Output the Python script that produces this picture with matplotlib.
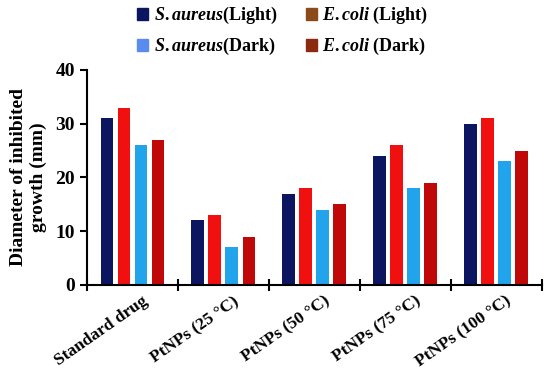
import numpy as np
import matplotlib.pyplot as plt
from matplotlib.patches import Patch

plt.rcParams['font.family'] = 'Liberation Serif'
plt.rcParams['font.weight'] = 'bold'
plt.rcParams['axes.labelweight'] = 'bold'
plt.rcParams['mathtext.fontset'] = 'custom'
plt.rcParams['mathtext.it'] = 'Liberation Serif:bold:italic'
plt.rcParams['mathtext.rm'] = 'Liberation Serif:bold'

categories = ['Standard drug', 'PtNPs (25 \u00b0C)', 'PtNPs (50 \u00b0C)',
              'PtNPs (75 \u00b0C)', 'PtNPs (100 \u00b0C)']
sa_light = [31, 12, 17, 24, 30]
ec_light = [33, 13, 18, 26, 31]
sa_dark = [26, 7, 14, 18, 23]
ec_dark = [27, 9, 15, 19, 25]

series = [sa_light, ec_light, sa_dark, ec_dark]
colors = ['#0c1560', '#f01010', '#22a4ec', '#c00808']
legend_colors = ['#0c1560', '#8a4a1a', '#5a8cf0', '#8a2a10']
labels = [r'$\it{S.aureus}$(Light)', r'$\it{E.coli}$ (Light)',
          r'$\it{S.aureus}$(Dark)', r'$\it{E.coli}$ (Dark)']

fig = plt.figure(figsize=(5.5, 3.72), dpi=100)
ax = fig.add_axes([0.158, 0.234, 0.827, 0.578])

x = np.arange(len(categories))
pitch = 0.187
width = 0.14
for i, (vals, c) in enumerate(zip(series, colors)):
    ax.bar(x + (i - 1.5) * pitch, vals, width, color=c)

ax.set_xlim(-0.5, len(categories) - 0.5)
ax.set_ylim(0, 40)
ax.set_yticks([0, 10, 20, 30, 40])
ax.tick_params(axis='y', labelsize=14, width=1.5, length=5)
ax.set_xticks(np.arange(len(categories) + 1) - 0.5)
ax.set_xticklabels([])
ax.tick_params(axis='x', which='major', direction='inout', length=8, width=1.5)
ax.set_xticks(x + 0.1, minor=True)
ax.set_xticklabels(categories, minor=True, rotation=35, ha='right',
                   rotation_mode='anchor', fontsize=12.5)
ax.tick_params(axis='x', which='minor', length=0, pad=6)

for s in ['top', 'right']:
    ax.spines[s].set_visible(False)
for s in ['left', 'bottom']:
    ax.spines[s].set_linewidth(1.5)

ax.set_ylabel('Diameter of inhibited\ngrowth (mm)', fontsize=14,
              fontweight='bold', labelpad=6)

# column-wise fill: S.aureus in the first column, E.coli in the second
order = [0, 2, 1, 3]
handles = [Patch(color=legend_colors[i]) for i in order]
fig.legend(handles, [labels[i] for i in order], ncol=2, loc='upper left',
           bbox_to_anchor=(0.22, 1.03), frameon=False, fontsize=13,
           handlelength=0.6, handleheight=0.6, handletextpad=0.3,
           columnspacing=1.6, labelspacing=0.55)

fig.savefig('out.png', dpi=100)
